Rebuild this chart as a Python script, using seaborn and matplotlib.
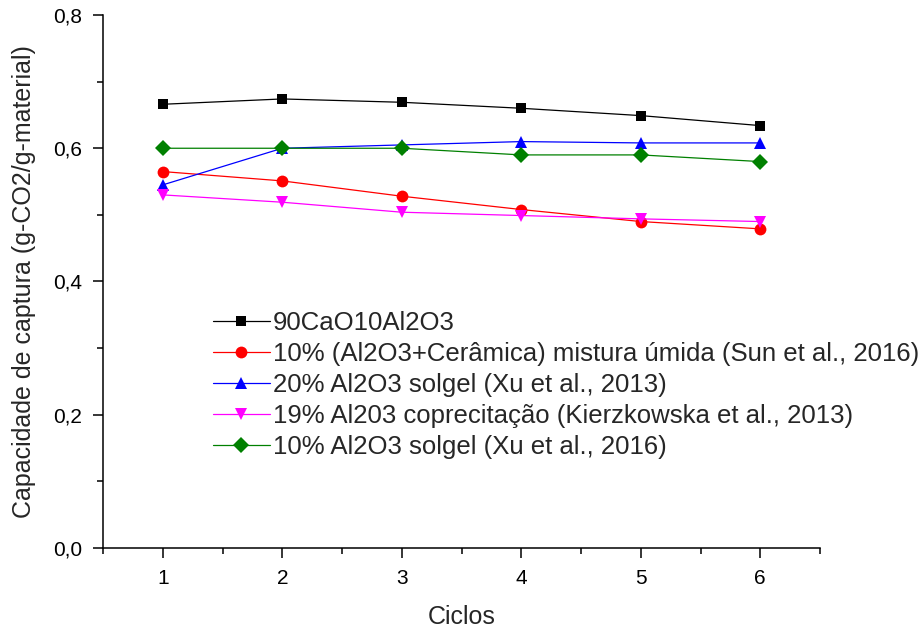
import numpy as np
import pandas as pd
import matplotlib
matplotlib.use("Agg")
import matplotlib.pyplot as plt
import seaborn as sns
from matplotlib.ticker import MultipleLocator, FuncFormatter

ciclos = [1, 2, 3, 4, 5, 6]
s_90cao = [0.666, 0.674, 0.669, 0.660, 0.649, 0.634]
s_sun = [0.565, 0.551, 0.528, 0.508, 0.490, 0.479]
s_xu2013 = [0.545, 0.600, 0.605, 0.610, 0.608, 0.608]
s_kierz = [0.530, 0.519, 0.504, 0.499, 0.494, 0.490]
s_xu2016 = [0.600, 0.600, 0.600, 0.590, 0.590, 0.580]

labels = [
    "90CaO10Al2O3",
    "10% (Al2O3+Cerâmica) mistura úmida (Sun et al., 2016)",
    "20% Al2O3 solgel (Xu et al., 2013)",
    "19% Al203 coprecitação (Kierzkowska et al., 2013)",
    "10% Al2O3 solgel (Xu et al., 2016)",
]
series = [s_90cao, s_sun, s_xu2013, s_kierz, s_xu2016]
colors = ["#000000", "#ff0000", "#0000ff", "#ff00ff", "#008000"]
markers = ["s", "o", "^", "v", "D"]
msizes = [7.5, 8.5, 8.5, 8.5, 8]

sns.set_style("ticks")
plt.rcParams["font.family"] = ["Liberation Sans", "DejaVu Sans"]

fig = plt.figure(figsize=(9.22, 6.29), dpi=100)
ax = fig.add_axes([103 / 922, 1 - 548 / 629, (820 - 103) / 922, (548 - 15) / 629])

for lab, vals, c, m, ms in zip(labels, series, colors, markers, msizes):
    df = pd.DataFrame({"Ciclos": ciclos, "Cap": vals})
    sns.lineplot(data=df, x="Ciclos", y="Cap", ax=ax, color=c, marker=m,
                 markersize=ms, markeredgewidth=0, linewidth=0.9, label=lab)

ax.set_xlim(0.5, 6.5)
ax.set_ylim(0, 0.8)
ax.xaxis.set_major_locator(MultipleLocator(1))
ax.xaxis.set_minor_locator(MultipleLocator(0.5))
ax.yaxis.set_major_locator(MultipleLocator(0.2))
ax.yaxis.set_minor_locator(MultipleLocator(0.1))
ax.yaxis.set_major_formatter(FuncFormatter(lambda v, p: f"{v:.1f}".replace(".", ",")))
ax.xaxis.set_major_formatter(FuncFormatter(lambda v, p: f"{int(round(v))}"))

for s in ["top", "right"]:
    ax.spines[s].set_visible(False)
for s in ["left", "bottom"]:
    ax.spines[s].set_linewidth(1.1)
    ax.spines[s].set_color("black")

ax.tick_params(which="major", direction="out", length=7, width=1.1, labelsize=15, colors="black", pad=8)
ax.tick_params(which="minor", direction="out", length=4, width=1.1, colors="black")

ax.set_xlabel("Ciclos", fontsize=18, labelpad=12)
ax.set_ylabel("Capacidade de captura (g-CO2/g-material)", fontsize=18, labelpad=12)

leg = ax.legend(loc="upper left", bbox_to_anchor=(213 / 922, 1 - 311 / 629),
                bbox_transform=fig.transFigure, frameon=False, fontsize=18.5,
                handlelength=2.2, handletextpad=0.12, labelspacing=0.27,
                borderpad=0, borderaxespad=0)

fig.savefig("out.png", dpi=100)
